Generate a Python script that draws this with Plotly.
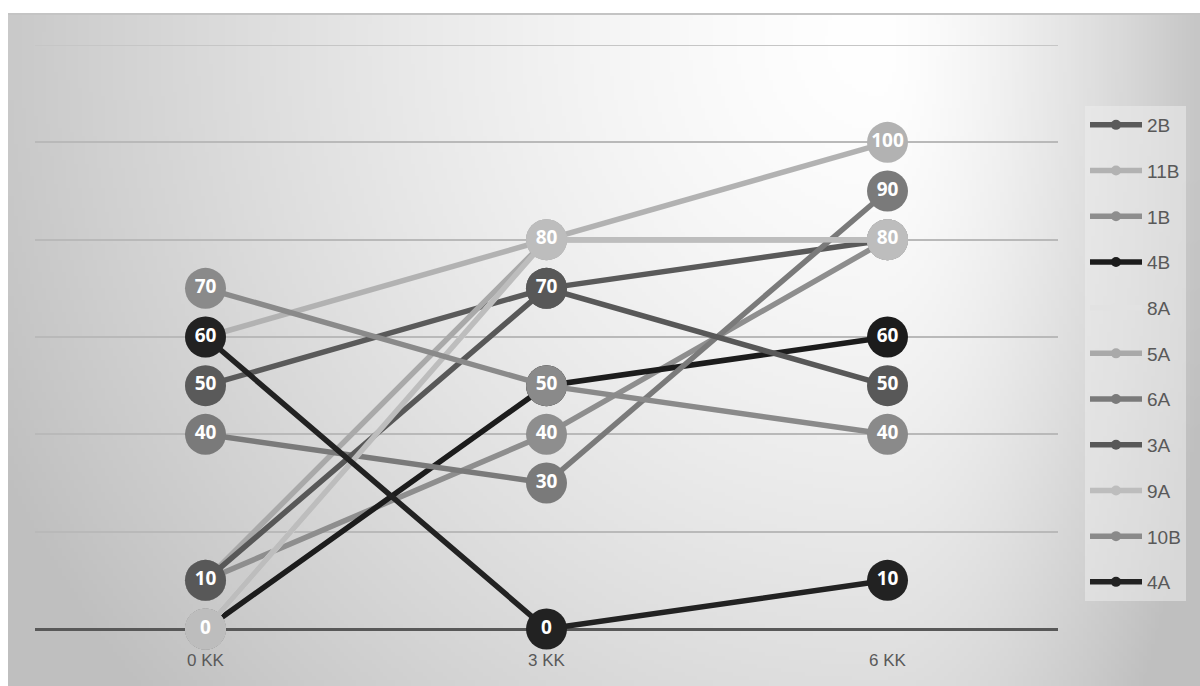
import base64
import struct
import zlib

import plotly.graph_objects as go

# ---------------- data ----------------
categories = ["0 KK", "3 KK", "6 KK"]
series_names = ["2B", "11B", "1B", "4B", "8A", "5A", "6A", "3A", "9A", "10B", "4A"]
s_2B = [50, 70, 80]
s_11B = [60, 80, 100]
s_1B = [10, 40, 80]
s_4B = [0, 50, 60]
s_8A = [0, 80, 80]
s_5A = [10, 80, 80]
s_6A = [40, 30, 90]
s_3A = [10, 70, 50]
s_9A = [0, 80, 80]
s_10B = [70, 50, 40]
s_4A = [60, 0, 10]
series_values = [s_2B, s_11B, s_1B, s_4B, s_8A, s_5A, s_6A, s_3A, s_9A, s_10B, s_4A]
y_ticks = [0, 20, 40, 60, 80, 100, 120]

# ---------------- styles ----------------
colors = {
    "2B": "#5a5a5a", "11B": "#b2b2b2", "1B": "#8e8e8e", "4B": "#1c1c1c",
    "8A": "#e2e2e2", "5A": "#a9a9a9", "6A": "#7a7a7a", "3A": "#585858",
    "9A": "#bdbdbd", "10B": "#8a8a8a", "4A": "#222222",
}

# pixel geometry
W_PX, H_PX = 1200, 686
L, R, T, B = 35, 142, 45, 57
plot_w = W_PX - L - R
plot_h = H_PX - T - B


# ---------------- background gradient image ----------------
def make_png(w, h):
    raw = bytearray()
    for j in range(h):
        y = 14 + (j + 0.5) * (672 / h)
        raw.append(0)
        for i in range(w):
            x = 8 + (i + 0.5) * (1192 / w)
            cx = 880
            dx = (x - cx) / (872 if x < cx else 310)
            dy = (y - 40) / 900
            d = (dx * dx + dy * dy) ** 0.5
            d = min(d, 1.12)
            v = 255 - 54 * d ** 1.45
            raw.append(max(0, min(255, int(v))))
    def chunk(tag, data):
        c = struct.pack(">I", len(data)) + tag + data
        return c + struct.pack(">I", zlib.crc32(tag + data) & 0xFFFFFFFF)
    png = b"\x89PNG\r\n\x1a\n"
    png += chunk(b"IHDR", struct.pack(">IIBBBBB", w, h, 8, 0, 0, 0, 0))
    png += chunk(b"IDAT", zlib.compress(bytes(raw), 9))
    png += chunk(b"IEND", b"")
    return "data:image/png;base64," + base64.b64encode(png).decode()


bg_src = make_png(300, 168)

fig = go.Figure()

for name, vals in zip(series_names, series_values):
    c = colors[name]
    fig.add_trace(go.Scatter(
        x=categories, y=vals, name=name, mode="lines+markers+text",
        line=dict(color=c, width=5.5),
        marker=dict(color=c, size=41, line=dict(width=0)),
        text=[str(v) for v in vals], textposition="middle center",
        textfont=dict(color="white", size=19, family="Open Sans", weight="bold"),
        cliponaxis=False, showlegend=False, hoverinfo="skip",
    ))

# legend-only traces
for name in series_names:
    c = colors[name]
    fig.add_trace(go.Scatter(
        x=[None], y=[None], name=name, mode="lines+markers",
        line=dict(color=c, width=5.5), marker=dict(color=c, size=10),
        legendgroup=name, showlegend=True,
    ))

fig.update_layout(
    width=W_PX, height=H_PX,
    margin=dict(l=L, r=R, t=T, b=B, pad=0),
    paper_bgcolor="white", plot_bgcolor="rgba(0,0,0,0)",
    font=dict(family="Liberation Sans", color="#595959"),
    showlegend=True,
    legend=dict(
        x=(1085 - L) / plot_w, y=(H_PX - B - 106) / plot_h,
        xanchor="left", yanchor="top",
        bgcolor="rgba(236,236,236,0.55)", borderwidth=0,
        font=dict(size=19, color="#595959", family="Liberation Sans"),
        tracegroupgap=18, itemwidth=52,
    ),
    xaxis=dict(
        type="category", range=[-0.5, 2.5], showgrid=False, zeroline=False,
        showline=False, ticks="", ticklabelstandoff=19,
        tickfont=dict(size=17, color="#595959", family="Liberation Sans"),
    ),
    yaxis=dict(
        range=[0, 120], tickvals=y_ticks, showticklabels=False,
        showgrid=True, gridcolor="#b9b9b9", gridwidth=2,
        zeroline=True, zerolinecolor="#585858", zerolinewidth=3,
        showline=False,
    ),
    images=[dict(
        source=bg_src, xref="paper", yref="paper",
        x=(8 - L) / plot_w, y=(H_PX - B - 14) / plot_h,
        sizex=1192 / plot_w, sizey=672 / plot_h,
        xanchor="left", yanchor="top", sizing="stretch", layer="below",
    )],
    shapes=[
        dict(
            type="line", xref="paper", yref="paper",
            x0=(8 - L) / plot_w, x1=(1200 - L) / plot_w,
            y0=(H_PX - B - 14) / plot_h, y1=(H_PX - B - 14) / plot_h,
            line=dict(color="#c4c4c4", width=2), layer="below",
        ),
        dict(
            type="line", xref="paper", yref="y",
            x0=0, x1=1, y0=y_ticks[-1], y1=y_ticks[-1],
            line=dict(color="#c6c6c6", width=2), layer="below",
        ),
    ],
)

fig.write_html("out.html")
